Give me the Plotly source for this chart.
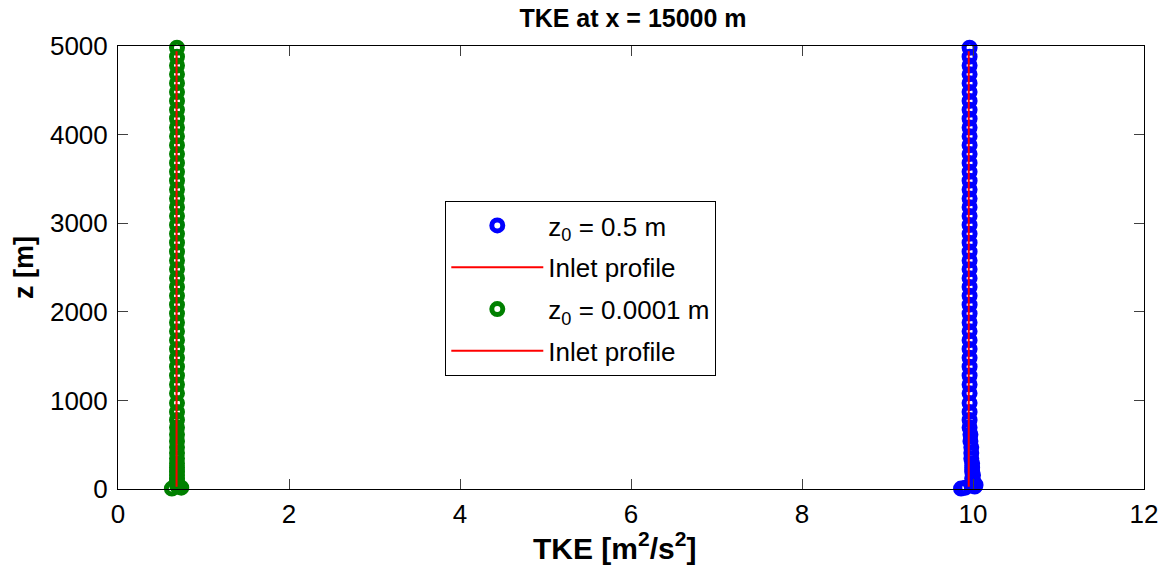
import plotly.graph_objects as go

# Heights of the sampled cells [m]
z_levels = [5, 15, 28, 45, 65, 90, 120, 155, 195, 240, 290, 345, 405, 470, 540,
            615, 695, 780, 870, 970,
            1080, 1180, 1280, 1380, 1480, 1580, 1680, 1780, 1880, 1980,
            2080, 2180, 2280, 2380, 2480, 2580, 2680, 2780, 2880, 2980,
            3080, 3180, 3280, 3380, 3480, 3580, 3680, 3780, 3880, 3980,
            4080, 4180, 4280, 4380, 4480, 4580, 4680, 4780, 4880, 4980]

# TKE at x = 15000 m for the rough case (z0 = 0.5 m) [m^2/s^2]
tke_rough = [9.86, 9.91, 10.02, 10.03, 10.01, 10.00, 9.99, 10.00, 9.99, 9.99,
             9.99, 9.98, 9.98, 9.98, 9.97, 9.97, 9.96, 9.96, 9.96, 9.96,
             9.96, 9.96, 9.96, 9.96, 9.96, 9.96, 9.96, 9.96, 9.96, 9.96,
             9.96, 9.96, 9.96, 9.96, 9.96, 9.96, 9.96, 9.96, 9.96, 9.96,
             9.96, 9.96, 9.96, 9.96, 9.96, 9.96, 9.96, 9.96, 9.96, 9.96,
             9.96, 9.96, 9.96, 9.96, 9.96, 9.96, 9.96, 9.96, 9.96, 9.96]

# TKE at x = 15000 m for the smooth case (z0 = 0.0001 m) [m^2/s^2]
tke_smooth = [0.63, 0.74, 0.70, 0.69, 0.69, 0.69, 0.69, 0.69, 0.69, 0.69,
              0.69, 0.69, 0.69, 0.69, 0.69, 0.69, 0.69, 0.69, 0.69, 0.69,
              0.69, 0.69, 0.69, 0.69, 0.69, 0.69, 0.69, 0.69, 0.69, 0.69,
              0.69, 0.69, 0.69, 0.69, 0.69, 0.69, 0.69, 0.69, 0.69, 0.69,
              0.69, 0.69, 0.69, 0.69, 0.69, 0.69, 0.69, 0.69, 0.69, 0.69,
              0.69, 0.69, 0.69, 0.69, 0.69, 0.69, 0.69, 0.69, 0.69, 0.69]

# Inlet profiles (constant TKE)
inlet_z = [25, 4940]
inlet_rough = [9.95, 9.95]
inlet_smooth = [0.685, 0.685]

x_ticks = [0, 2, 4, 6, 8, 10, 12]
y_ticks = [0, 1000, 2000, 3000, 4000, 5000]

FONT = "Liberation Sans, Arial, Helvetica, sans-serif"

marker_style = dict(symbol="circle-open", size=11, line=dict(width=5))

fig = go.Figure()
fig.add_trace(go.Scatter(
    x=tke_rough, y=z_levels, mode="markers", name="z<sub>0</sub> = 0.5 m",
    legendgroup="a", marker=dict(color="#0000ff", **marker_style), cliponaxis=False))
fig.add_trace(go.Scatter(
    x=inlet_rough, y=inlet_z, mode="lines", name="Inlet profile",
    legendgroup="b", line=dict(color="#ff0000", width=2)))
fig.add_trace(go.Scatter(
    x=tke_smooth, y=z_levels, mode="markers", name="z<sub>0</sub> = 0.0001 m",
    legendgroup="c", marker=dict(color="#008000", **marker_style), cliponaxis=False))
fig.add_trace(go.Scatter(
    x=inlet_smooth, y=inlet_z, mode="lines", name="Inlet profile",
    legendgroup="d", line=dict(color="#ff0000", width=2)))

axis_common = dict(
    showline=True, linecolor="black", linewidth=1, mirror="ticks",
    ticks="inside", ticklen=10, tickcolor="#404040", tickwidth=1,
    showgrid=False, zeroline=False,
    tickfont=dict(family=FONT, size=26, color="black"),
)

fig.update_layout(
    width=1170, height=571,
    margin=dict(l=118, r=22, t=46, b=82),
    paper_bgcolor="white", plot_bgcolor="white",
    title=dict(text="<b>TKE at x = 15000 m</b>", x=(118 + 515) / 1170, xanchor="center",
               y=1 - 18 / 571, yanchor="middle",
               font=dict(family=FONT, size=25, color="black")),
    xaxis=dict(range=[0, 12], tickvals=x_ticks, ticktext=[str(v) for v in x_ticks],
               ticklabelstandoff=2, **axis_common),
    yaxis=dict(range=[0, 5000], tickvals=y_ticks, ticktext=[str(v) for v in y_ticks],
               ticklabelstandoff=4,
               title=dict(text="<b>z [m]</b>", standoff=8,
                          font=dict(family=FONT, size=27, color="black")),
               **axis_common),
    annotations=[dict(text="<b>TKE [m<sup>2</sup>/s<sup>2</sup>]</b>",
                      xref="paper", yref="paper", x=(616 - 118) / 1030, y=-0.128,
                      xanchor="center", yanchor="middle", showarrow=False,
                      font=dict(family=FONT, size=30, color="black"))],
    legend=dict(x=0.319, y=0.65, xanchor="left", yanchor="top",
                bgcolor="white", bordercolor="black", borderwidth=1,
                font=dict(family=FONT, size=26, color="black"),
                tracegroupgap=5, itemwidth=92),
    showlegend=True,
)

fig.write_html("out.html")
